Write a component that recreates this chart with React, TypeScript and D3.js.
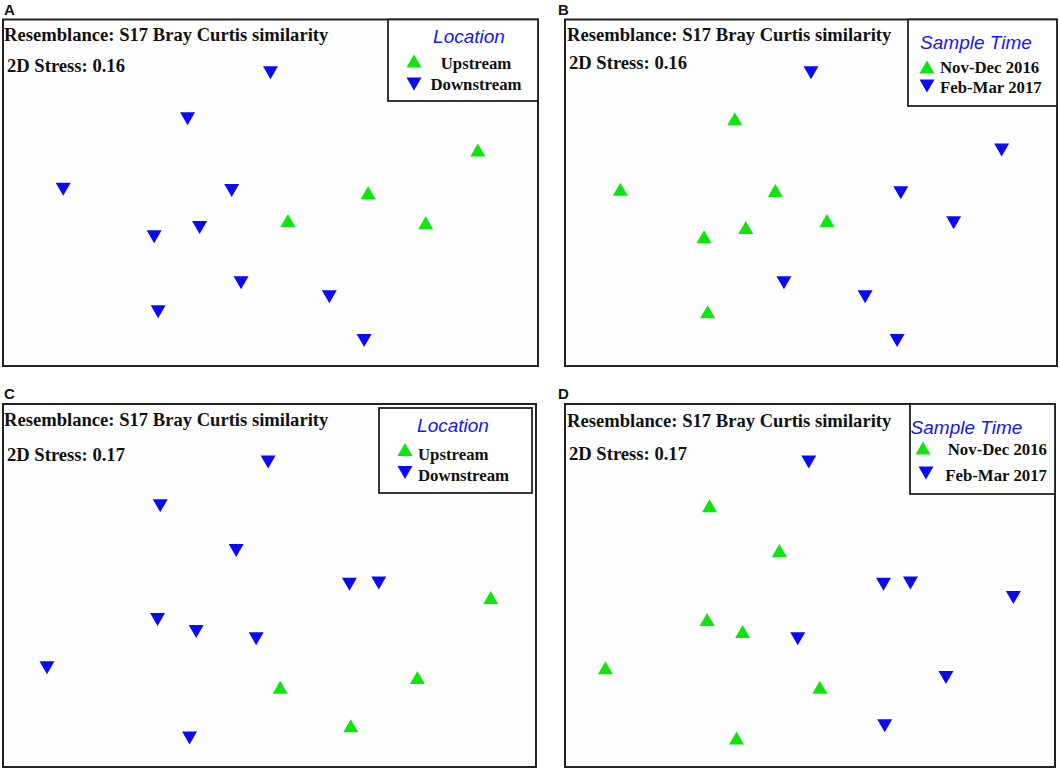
import React from "react";
import * as d3 from "d3";

// NMDS ordination, panels A & B (same samples, 2D stress 0.16)
const nmdsABx = [0.0, -0.62, -1.55, -0.29, -0.87, -0.53, -0.22, -0.84, 0.44, 0.7, 1.55, 0.73, 0.13, 1.16];
const nmdsABy = [1.04, 0.64, 0.03, 0.02, -0.38, -0.3, -0.78, -1.03, -0.9, -1.28, 0.37, 0.0, -0.24, -0.26];
const locationAB = ["Downstream", "Downstream", "Downstream", "Downstream", "Downstream", "Downstream", "Downstream", "Downstream", "Downstream", "Downstream", "Upstream", "Upstream", "Upstream", "Upstream"];
const timeAB = ["Feb-Mar 2017", "Nov-Dec 2016", "Nov-Dec 2016", "Nov-Dec 2016", "Nov-Dec 2016", "Nov-Dec 2016", "Feb-Mar 2017", "Nov-Dec 2016", "Feb-Mar 2017", "Feb-Mar 2017", "Feb-Mar 2017", "Feb-Mar 2017", "Nov-Dec 2016", "Feb-Mar 2017"];

// NMDS ordination, panels C & D (2D stress 0.17)
const nmdsCDx = [-0.01, -0.82, -0.25, 0.6, 0.82, -0.84, -0.55, -0.1, -1.67, -0.6, 1.66, 0.08, 1.11, 0.61];
const nmdsCDy = [1.02, 0.66, 0.29, 0.01, 0.02, -0.28, -0.38, -0.44, -0.68, -1.26, -0.1, -0.84, -0.76, -1.16];
const locationCD = ["Downstream", "Downstream", "Downstream", "Downstream", "Downstream", "Downstream", "Downstream", "Downstream", "Downstream", "Downstream", "Upstream", "Upstream", "Upstream", "Upstream"];
const timeCD = ["Feb-Mar 2017", "Nov-Dec 2016", "Nov-Dec 2016", "Feb-Mar 2017", "Feb-Mar 2017", "Nov-Dec 2016", "Nov-Dec 2016", "Feb-Mar 2017", "Nov-Dec 2016", "Nov-Dec 2016", "Feb-Mar 2017", "Nov-Dec 2016", "Feb-Mar 2017", "Feb-Mar 2017"];

const locationCats = ["Upstream", "Downstream"];
const timeCats = ["Nov-Dec 2016", "Feb-Mar 2017"];
const stressValues = ["0.16", "0.16", "0.17", "0.17"];
const panelLabels = ["A", "B", "C", "D"];
const resemblanceText = "Resemblance: S17 Bray Curtis similarity";

const GREEN = "#0ee40e";
const BLUE = "#0b0bf2";
const SERIF = "'Liberation Serif', 'Times New Roman', serif";
const SANS = "'Liberation Sans', Arial, sans-serif";

const triPath = (x: number, y: number, up: boolean) => {
  const hw = 7.5, hh = 6.5;
  return up
    ? `M${x},${y - hh}L${x + hw},${y + hh}L${x - hw},${y + hh}Z`
    : `M${x},${y + hh}L${x + hw},${y - hh}L${x - hw},${y - hh}Z`;
};

type PanelCfg = {
  frame: [number, number, number, number];
  xs: number[];
  ys: number[];
  groups: string[];
  cats: string[];
  title: string;
  labelPos: [number, number];
  resPos: [number, number];
  stressPos: [number, number];
  legendBox: [number, number, number, number];
  titlePos: [number, number];
  items: { mx: number; my: number; tx: number; ty: number; anchor: string }[];
};

const panels: PanelCfg[] = [
  {
    frame: [3, 19.5, 538, 366],
    xs: nmdsABx, ys: nmdsABy, groups: locationAB, cats: locationCats, title: "Location",
    labelPos: [4, 15], resPos: [4, 41], stressPos: [7, 71.5],
    legendBox: [388, 19.5, 538, 101], titlePos: [469, 42.5],
    items: [
      { mx: 414, my: 61, tx: 476, ty: 69, anchor: "middle" },
      { mx: 414, my: 84, tx: 476, ty: 90, anchor: "middle" },
    ],
  },
  {
    frame: [565, 19.5, 1057, 366],
    xs: nmdsABx, ys: nmdsABy, groups: timeAB, cats: timeCats, title: "Sample Time",
    labelPos: [558, 15], resPos: [567, 41], stressPos: [569, 68.5],
    legendBox: [908, 19.5, 1057, 106], titlePos: [976, 49],
    items: [
      { mx: 927, my: 67, tx: 940, ty: 72.5, anchor: "start" },
      { mx: 927, my: 86, tx: 940, ty: 93, anchor: "start" },
    ],
  },
  {
    frame: [3, 404, 536, 767],
    xs: nmdsCDx, ys: nmdsCDy, groups: locationCD, cats: locationCats, title: "Location",
    labelPos: [4, 399], resPos: [4, 425.5], stressPos: [7, 461],
    legendBox: [379, 408, 532, 493], titlePos: [453, 431.5],
    items: [
      { mx: 405, my: 449.5, tx: 418, ty: 459.5, anchor: "start" },
      { mx: 405, my: 472.5, tx: 418, ty: 480.5, anchor: "start" },
    ],
  },
  {
    frame: [565, 404, 1055, 767],
    xs: nmdsCDx, ys: nmdsCDy, groups: timeCD, cats: timeCats, title: "Sample Time",
    labelPos: [558, 399], resPos: [567, 426.5], stressPos: [569, 460],
    legendBox: [910, 404, 1055, 494], titlePos: [966.5, 433.5],
    items: [
      { mx: 923, my: 448, tx: 1047, ty: 455, anchor: "end" },
      { mx: 926, my: 473, tx: 1047, ty: 480.5, anchor: "end" },
    ],
  },
];

function Panel({ cfg, idx }: { cfg: PanelCfg; idx: number }) {
  const [x0, y0, x1, y1] = cfg.frame;
  const xScale = d3.scaleLinear().domain([-2, 2]).range([x0, x1]);
  const yScale = d3.scaleLinear().domain([-1.5, 1.5]).range([y1, y0]);
  const color = d3.scaleOrdinal<string, string>().domain(cfg.cats).range([GREEN, BLUE]);
  const isUp = (g: string) => g === cfg.cats[0];
  const [lx0, ly0, lx1, ly1] = cfg.legendBox;
  return (
    <g>
      <text x={cfg.labelPos[0]} y={cfg.labelPos[1]} fontFamily={SANS} fontWeight="bold" fontSize={15} fill="#111">
        {panelLabels[idx]}
      </text>
      <rect x={x0} y={y0} width={x1 - x0} height={y1 - y0} fill="#fefefe" stroke="#222" strokeWidth={2} />
      <text x={cfg.resPos[0]} y={cfg.resPos[1]} fontFamily={SERIF} fontWeight="bold" fontSize={18.6} fill="#111">
        {resemblanceText}
      </text>
      <text x={cfg.stressPos[0]} y={cfg.stressPos[1]} fontFamily={SERIF} fontWeight="bold" fontSize={18.6} fill="#111">
        {"2D Stress: " + stressValues[idx]}
      </text>
      <rect x={lx0} y={ly0} width={lx1 - lx0} height={ly1 - ly0} fill="#fff" stroke="#222" strokeWidth={1.8} />
      <text x={cfg.titlePos[0]} y={cfg.titlePos[1]} textAnchor="middle" fontFamily={SANS} fontStyle="italic" fontSize={19} fill="#1414ff">
        {cfg.title}
      </text>
      {cfg.cats.map((c, i) => (
        <g key={c}>
          <path d={triPath(cfg.items[i].mx, cfg.items[i].my, i === 0)} fill={color(c)} />
          <text x={cfg.items[i].tx} y={cfg.items[i].ty} textAnchor={cfg.items[i].anchor as any} fontFamily={SERIF} fontWeight="bold" fontSize={16.8} fill="#111">
            {c}
          </text>
        </g>
      ))}
      {cfg.xs.map((v, i) => (
        <path key={i} d={triPath(xScale(v), yScale(cfg.ys[i]), isUp(cfg.groups[i]))} fill={color(cfg.groups[i])} />
      ))}
    </g>
  );
}

export default function App() {
  return (
    <svg width={1060} height={770} style={{ position: "absolute", left: 0, top: 0, background: "#fff" }}>
      <rect x={0} y={0} width={1060} height={770} fill="#fff" />
      {panels.map((p, i) => (
        <Panel key={i} cfg={p} idx={i} />
      ))}
    </svg>
  );
}
